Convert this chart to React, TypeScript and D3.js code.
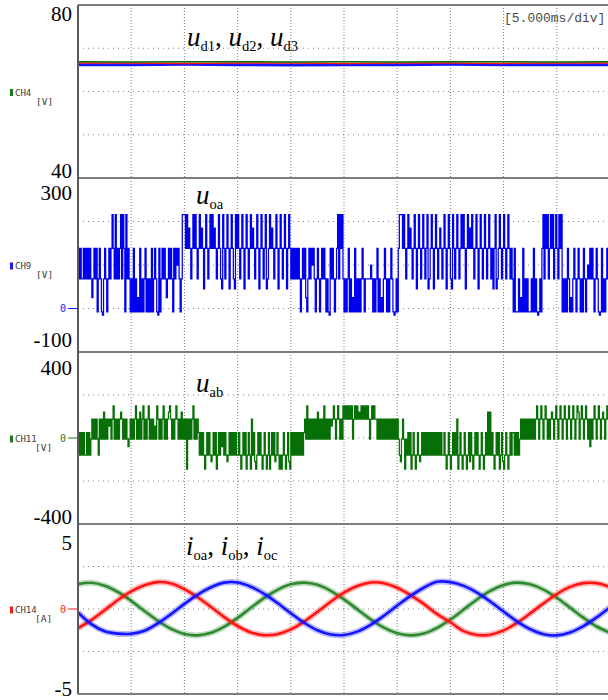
import React from "react";
import * as d3 from "d3";

const WIDTH = 608;
const HEIGHT = 700;
const PLOT_LEFT = 78;
const PLOT_RIGHT = 610;

// Time base: 10 divisions of 5 ms
const timeSpanMs = 50;
const divisionMs = 5;

// ---- Panel 1: DC-link voltages u_d1, u_d2, u_d3 (V), one sample per 5 ms ----
const udStepMs = 5;
const ud1 = [66.9, 66.8, 66.9, 66.9, 66.8, 66.9, 66.8, 66.9, 66.9, 66.8, 66.9];
const ud2 = [66.6, 66.6, 66.5, 66.6, 66.6, 66.5, 66.6, 66.6, 66.5, 66.6, 66.6];
const ud3 = [66.2, 66.2, 66.3, 66.2, 66.1, 66.2, 66.2, 66.3, 66.2, 66.2, 66.2];

// ---- Panel 2: cascaded output voltage u_oa, one level code per 0.1 ms ----
const uoaStepMs = 0.1;
const uoaLevelVolts = [-8, 68, 138, 216, 45, 185, 100, 25, -15];
const uoaCodes = [
  "2121121212",
  "121712120121081210121",
  "23213121231320312",
  "10102010702010120101020121082012121712121021262101",
  "33323252123232123252423212323252123214321232423214323212324232123252123242321234123252123242321232423212",
  "121212101212701212621012101212101082121012",
  "313231",
  "010120107020101012101111161010120107012101012108010",
  "23332321232521232423212321234123242321252123242321432123212323242325232123242321232123212423412321232123212",
  "1020001070201010001020108010",
  "2313231232312321323",
  "0101021070121012101021016121210121080201012101270121",
];

// ---- Panel 3: line voltage u_ab, one level code per 0.1 ms ----
const uabStepMs = 0.1;
const uabLevelVolts = [-145, -80, -5, 25, 88, 150, 120, -110, 55, -40];
const uabCodes = [
  "131313113131",
  "24242421424262424842452424246424242924",
  "242452426245242452424282542424524246542424542426242",
  "404242452424",
  "3131310131317131301313931317131313131",
  "13101313013104137013131013101301313713101013101370",
  "3131313131313",
  "425242424242624242524242484542454242",
  "5454545452454546454545454245454",
  "4242424242424242424",
  "2421724202131301310131713",
  "1313131313131313131",
  "131013101313140131013101373101313101310131616131013130137013101313",
  "313131",
  "2424242424242424",
  "54245424542424642454245424542454245424562454245424942454245424642454",
  "42424242",
];

// ---- Panel 4: output currents (A), one sample per 1.25 ms ----
const iStepMs = 1.25;
const ioa = [
  -1.13, -0.65, -0.07, 0.53, 1.04, 1.4, 1.58, 1.5, 1.17, 0.69, 0.12, -0.48, -1.0, -1.38,
  -1.54, -1.48, -1.2, -0.74, -0.17, 0.43, 0.96, 1.35, 1.56, 1.52, 1.25, 0.82, 0.3, -0.3,
  -0.78, -1.3, -1.53, -1.51, -1.26, -0.82, -0.26, 0.33, 0.88, 1.3, 1.52, 1.52, 1.29,
];
const iob = [
  -0.2, -0.89, -1.31, -1.45, -1.46, -1.28, -0.85, -0.3, 0.3, 0.85, 1.28, 1.55, 1.56, 1.31,
  0.89, 0.35, -0.25, -0.81, -1.25, -1.5, -1.53, -1.33, -0.93, -0.4, 0.2, 0.77, 1.25, 1.6,
  1.58, 1.36, 0.97, 0.44, -0.15, -0.73, -1.19, -1.48, -1.55, -1.38, -1.01, -0.49, 0.1,
];
const ioc = [
  1.46, 1.54, 1.37, 1.0, 0.48, -0.12, -0.69, -1.17, -1.47, -1.55, -1.4, -1.04, -0.52, 0.07,
  0.65, 1.13, 1.45, 1.55, 1.42, 1.07, 0.57, -0.02, -0.6, -1.1, -1.43, -1.55, -1.44, -1.11,
  -0.62, -0.03, 0.56, 1.06, 1.41, 1.55, 1.45, 1.14, 0.66, 0.08, -0.51, -1.03, -1.39,
];

// Axis annotations per panel
const panelTopLabels = ["80", "300", "400", "5"];
const panelBottomLabels = ["40", "-100", "-400", "-5"];
const panelDomains: [number, number][] = [
  [40, 80],
  [-100, 300],
  [-400, 400],
  [-5, 5],
];
const channelNames = ["CH4", "CH9", "CH11", "CH14"];
const channelUnits = ["[V]", "[V]", "[V]", "[A]"];
const channelColors = ["#1b7a1b", "#1a1aff", "#1b7a1b", "#ff1a1a"];
const zeroMarkerPanels = [1, 2, 3];
const timebaseLabel = "[5.000ms/div]";

// Layout
const panelRows = [
  { top: 5, bottom: 178 },
  { top: 178, bottom: 352 },
  { top: 352, bottom: 524 },
  { top: 524, bottom: 694 },
];
const topLabelBaselines = [21, 200, 375, 550];
const bottomLabelBaselines = [178, 347, 524, 696];

const COLOR_BLUE = "#1414ff";
const COLOR_BLUE_DEEP = "#0000f0";
const COLOR_RED = "#ff1414";
const COLOR_GREEN_DARK = "#067006";
const COLOR_GREEN = "#2f8a2f";

const SERIF = "'Liberation Serif', 'Times New Roman', serif";
const MONO = "'DejaVu Sans Mono', 'Liberation Mono', monospace";

export default function App() {
  const x = d3.scaleLinear().domain([0, timeSpanMs]).range([PLOT_LEFT, PLOT_RIGHT]);
  const ys = panelRows.map((p, k) =>
    d3.scaleLinear().domain(panelDomains[k]).range([p.bottom, p.top])
  );

  const seriesLine = (y: d3.ScaleLinear<number, number>, step: number, curve: d3.CurveFactory) =>
    d3
      .line<number>()
      .x((_, i) => x(i * step))
      .y((v) => y(v))
      .curve(curve);

  const uoa = uoaCodes.join("").split("").map((c) => uoaLevelVolts[+c]);
  const uab = uabCodes.join("").split("").map((c) => uabLevelVolts[+c]);

  const udLine = seriesLine(ys[0], udStepMs, d3.curveLinear);
  const uoaLine = seriesLine(ys[1], uoaStepMs, d3.curveStepAfter);
  const uabLine = seriesLine(ys[2], uabStepMs, d3.curveStepAfter);
  const iLine = seriesLine(ys[3], iStepMs, d3.curveCatmullRom);

  const divisions = d3.range(divisionMs, timeSpanMs, divisionMs);

  const sub = (main: string, s: string, key: string, comma: boolean) => (
    <React.Fragment key={key}>
      <tspan fontStyle="italic">{main}</tspan>
      <tspan fontSize={14.5} dy={5}>{s}</tspan>
      {comma ? <tspan dy={-5}>, </tspan> : null}
    </React.Fragment>
  );

  const currents: [number[], string][] = [
    [ioc, COLOR_GREEN],
    [ioa, COLOR_RED],
    [iob, COLOR_BLUE],
  ];

  return (
    <svg
      width={WIDTH}
      height={HEIGHT}
      style={{ position: "absolute", left: 0, top: 0, background: "#fff" }}
    >
      <defs>
        {panelRows.map((p, k) => (
          <clipPath id={`clip${k}`} key={k}>
            <rect x={PLOT_LEFT} y={p.top} width={PLOT_RIGHT - PLOT_LEFT} height={p.bottom - p.top} />
          </clipPath>
        ))}
      </defs>
      <rect width={WIDTH} height={HEIGHT} fill="#fff" />

      {/* dotted graticule */}
      {panelRows.map((p, k) => {
        const y = ys[k];
        const [lo, hi] = panelDomains[k];
        const hTicks = d3.range(1, 4).map((j) => lo + ((hi - lo) * j) / 4);
        return (
          <g key={`grid${k}`}>
            {divisions.map((t) => (
              <line
                key={`v${t}`}
                x1={x(t)}
                x2={x(t)}
                y1={p.top}
                y2={p.bottom}
                stroke="#808080"
                strokeWidth={1}
                strokeDasharray="1,2"
              />
            ))}
            {hTicks.map((v) => (
              <line
                key={`h${v}`}
                x1={PLOT_LEFT}
                x2={PLOT_RIGHT}
                y1={y(v)}
                y2={y(v)}
                stroke="#808080"
                strokeWidth={1}
                strokeDasharray="1,4"
              />
            ))}
          </g>
        );
      })}

      {/* panel 1: u_d1, u_d2, u_d3 */}
      <g clipPath="url(#clip0)" fill="none">
        <path d={udLine(ud3) ?? ""} stroke={COLOR_BLUE} strokeWidth={3} />
        <path d={udLine(ud2) ?? ""} stroke={COLOR_RED} strokeWidth={1.5} />
        <path d={udLine(ud1) ?? ""} stroke={COLOR_GREEN_DARK} strokeWidth={1.5} />
      </g>

      {/* panel 2: u_oa */}
      <g clipPath="url(#clip1)" fill="none">
        <path d={uoaLine(uoa) ?? ""} stroke={COLOR_BLUE_DEEP} strokeWidth={1.25} />
      </g>

      {/* panel 3: u_ab */}
      <g clipPath="url(#clip2)" fill="none">
        <path d={uabLine(uab) ?? ""} stroke={COLOR_GREEN_DARK} strokeWidth={1.25} />
      </g>

      {/* panel 4: i_oa, i_ob, i_oc (soft band for the measurement ripple, then the trace) */}
      <g clipPath="url(#clip3)" fill="none" strokeLinejoin="round">
        {currents.map(([s, c], k) => (
          <g key={`i${k}`}>
            <path d={iLine(s) ?? ""} stroke={c} strokeWidth={6} strokeOpacity={0.3} />
            <path d={iLine(s) ?? ""} stroke={c} strokeWidth={2.6} />
          </g>
        ))}
      </g>

      {/* panel frames */}
      {panelRows.map((p, k) => (
        <g key={`frame${k}`}>
          <line x1={PLOT_LEFT} x2={PLOT_RIGHT} y1={p.top} y2={p.top} stroke="#7d7d7d" strokeWidth={2} />
          <line x1={PLOT_LEFT} x2={PLOT_RIGHT} y1={p.bottom} y2={p.bottom} stroke="#7d7d7d" strokeWidth={2} />
        </g>
      ))}
      <line
        x1={PLOT_LEFT}
        x2={PLOT_LEFT}
        y1={panelRows[0].top}
        y2={panelRows[3].bottom}
        stroke="#5a5a5a"
        strokeWidth={2}
      />

      {/* range labels */}
      {panelRows.map((_, k) => (
        <g key={`lab${k}`} fontFamily={SERIF} fontSize={21} fill="#000" textAnchor="end">
          <text x={72} y={topLabelBaselines[k]}>{panelTopLabels[k]}</text>
          <text x={72} y={bottomLabelBaselines[k]}>{panelBottomLabels[k]}</text>
        </g>
      ))}

      {/* channel tags */}
      {panelRows.map((p, k) => {
        const cy = (p.top + p.bottom) / 2 + 1;
        return (
          <g key={`ch${k}`} fontFamily={MONO} fill="#3a3a3a">
            <rect x={10} y={cy - 3.5} width={3} height={7} fill={channelColors[k]} />
            <text x={15} y={cy + 3} fontSize={9}>{channelNames[k]}</text>
            <text x={channelNames[k].length > 3 ? 35 : 36} y={cy + 12} fontSize={9.5}>
              {channelUnits[k]}
            </text>
          </g>
        );
      })}

      {/* zero markers */}
      {zeroMarkerPanels.map((k) => {
        const y0 = ys[k](0);
        return (
          <g key={`zero${k}`}>
            <text x={66} y={y0 + 3.5} fontSize={10} fontFamily={MONO} textAnchor="end" fill={channelColors[k]}>
              0
            </text>
            <line x1={68} x2={PLOT_LEFT} y1={y0} y2={y0} stroke={channelColors[k]} strokeWidth={1} />
          </g>
        );
      })}

      {/* trace names */}
      <g fontFamily={SERIF} fill="#000" fontSize={27}>
        <text x={187} y={46}>
          {sub("u", "d1", "a", true)}
          {sub("u", "d2", "b", true)}
          {sub("u", "d3", "c", false)}
        </text>
        <text x={196} y={204}>{sub("u", "oa", "d", false)}</text>
        <text x={196} y={392}>{sub("u", "ab", "e", false)}</text>
        <text x={186} y={555}>
          {sub("i", "oa", "f", true)}
          {sub("i", "ob", "g", true)}
          {sub("i", "oc", "h", false)}
        </text>
      </g>

      {/* time base */}
      <text x={504} y={22} fontSize={13} fontFamily="'Liberation Mono', monospace" fill="#4a4a4a">
        {timebaseLabel}
      </text>
    </svg>
  );
}
